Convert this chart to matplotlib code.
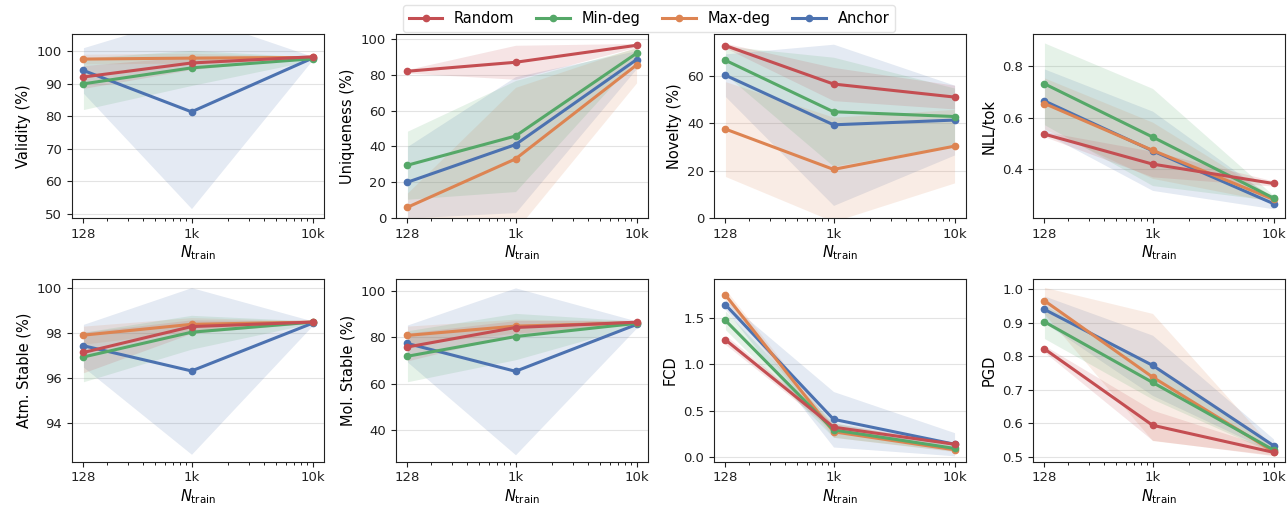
import matplotlib
matplotlib.use("Agg")
import matplotlib.pyplot as plt
import numpy as np
from matplotlib.ticker import FixedLocator, FixedFormatter, LogLocator, NullFormatter

n_train = [128, 1000, 10000]
x_ticklabels = ["128", "1k", "10k"]
methods = ["Random", "Min-deg", "Max-deg", "Anchor"]
colors = {"Random": "#C44E52", "Min-deg": "#55A868", "Max-deg": "#DD8452", "Anchor": "#4C72B0"}

metric_labels = ["Validity (%)", "Uniqueness (%)", "Novelty (%)", "NLL/tok",
                 "Atm. Stable (%)", "Mol. Stable (%)", "FCD", "PGD"]

# means per metric: Random, Min-deg, Max-deg, Anchor
validity_mean = {"Random": [92.0, 96.3, 98.2], "Min-deg": [89.9, 94.8, 97.6],
                 "Max-deg": [97.5, 97.8, 98.0], "Anchor": [94.0, 81.3, 97.8]}
validity_std = {"Random": [3.5, 2.0, 0.3], "Min-deg": [7.9, 5.4, 0.5],
                "Max-deg": [1.5, 1.5, 0.3], "Anchor": [7.0, 29.7, 0.5]}

uniq_mean = {"Random": [82.0, 87.0, 96.5], "Min-deg": [29.5, 45.8, 92.0],
             "Max-deg": [6.0, 33.0, 85.5], "Anchor": [20.0, 41.0, 88.5]}
uniq_std = {"Random": [1.0, 9.5, 1.0], "Min-deg": [19.0, 31.0, 3.0],
            "Max-deg": [8.0, 40.0, 10.0], "Anchor": [20.0, 38.0, 5.0]}

nov_mean = {"Random": [72.7, 56.5, 51.0], "Min-deg": [66.5, 44.8, 42.8],
            "Max-deg": [37.5, 20.5, 30.3], "Anchor": [60.2, 39.3, 41.3]}
nov_std = {"Random": [1.0, 7.0, 5.0], "Min-deg": [6.0, 23.0, 12.0],
           "Max-deg": [20.0, 22.0, 15.5], "Anchor": [9.0, 34.0, 14.7]}

nll_mean = {"Random": [0.535, 0.418, 0.342], "Min-deg": [0.732, 0.524, 0.285],
            "Max-deg": [0.655, 0.472, 0.280], "Anchor": [0.665, 0.470, 0.263]}
nll_std = {"Random": [0.01, 0.05, 0.01], "Min-deg": [0.16, 0.19, 0.01],
           "Max-deg": [0.10, 0.11, 0.01], "Anchor": [0.125, 0.155, 0.02]}

atm_mean = {"Random": [97.15, 98.30, 98.50], "Min-deg": [96.95, 98.05, 98.50],
            "Max-deg": [97.92, 98.40, 98.50], "Anchor": [97.45, 96.33, 98.45]}
atm_std = {"Random": [0.9, 0.3, 0.05], "Min-deg": [1.1, 0.75, 0.05],
           "Max-deg": [0.4, 0.3, 0.05], "Anchor": [0.95, 3.7, 0.1]}

mol_mean = {"Random": [75.8, 84.2, 86.5], "Min-deg": [71.8, 80.3, 86.0],
            "Max-deg": [80.8, 84.8, 86.2], "Anchor": [77.3, 65.3, 85.5]}
mol_std = {"Random": [6.0, 3.0, 0.8], "Min-deg": [11.0, 10.0, 1.0],
           "Max-deg": [4.0, 3.0, 0.8], "Anchor": [8.0, 36.0, 1.5]}

fcd_mean = {"Random": [1.265, 0.320, 0.135], "Min-deg": [1.475, 0.290, 0.090],
            "Max-deg": [1.750, 0.270, 0.075], "Anchor": [1.645, 0.405, 0.135]}
fcd_std = {"Random": [0.05, 0.04, 0.02], "Min-deg": [0.10, 0.08, 0.03],
           "Max-deg": [0.06, 0.06, 0.02], "Anchor": [0.05, 0.30, 0.125]}

pgd_mean = {"Random": [0.822, 0.594, 0.513], "Min-deg": [0.903, 0.722, 0.520],
            "Max-deg": [0.966, 0.738, 0.515], "Anchor": [0.940, 0.773, 0.533]}
pgd_std = {"Random": [0.01, 0.045, 0.01], "Min-deg": [0.05, 0.05, 0.01],
           "Max-deg": [0.04, 0.19, 0.01], "Anchor": [0.04, 0.09, 0.02]}

panels = [(validity_mean, validity_std), (uniq_mean, uniq_std), (nov_mean, nov_std),
          (nll_mean, nll_std), (atm_mean, atm_std), (mol_mean, mol_std),
          (fcd_mean, fcd_std), (pgd_mean, pgd_std)]
ylims = [(48.7, 105.2), (0, 102.8), (0, 77.6), (0.207, 0.927),
         (92.3, 100.4), (26.3, 105.0), (-0.054, 1.92), (0.485, 1.03)]
yticks = [[50, 60, 70, 80, 90, 100], [0, 20, 40, 60, 80, 100], [0, 20, 40, 60],
          [0.4, 0.6, 0.8], [94, 96, 98, 100], [40, 60, 80, 100],
          [0.0, 0.5, 1.0, 1.5], [0.5, 0.6, 0.7, 0.8, 0.9, 1.0]]
ytickfmt = ["{:.0f}", "{:.0f}", "{:.0f}", "{:.1f}", "{:.0f}", "{:.0f}", "{:.1f}", "{:.1f}"]

W, H = 1288, 511
fig = plt.figure(figsize=(W / 100, H / 100), dpi=100)
lefts = [72, 396, 714, 1033]
width = 252
rows = [(34, 218), (279.3, 461.7)]

draw_order = ["Anchor", "Max-deg", "Min-deg", "Random"]
handles = {}
for i, (means, stds) in enumerate(panels):
    r, c = divmod(i, 4)
    top, bot = rows[r]
    ax = fig.add_axes([lefts[c] / W, 1 - bot / H, width / W, (bot - top) / H])
    for m in draw_order:
        mu = np.array(means[m]); sd = np.array(stds[m])
        ax.fill_between(n_train, mu - sd, mu + sd, color=colors[m], alpha=0.15, linewidth=0)
        ln, = ax.plot(n_train, mu, color=colors[m], lw=2.2, marker="o", ms=4.5, label=m)
        handles[m] = ln
    ax.set_xscale("log")
    ax.xaxis.set_major_locator(FixedLocator(n_train))
    ax.xaxis.set_major_formatter(FixedFormatter(x_ticklabels))
    ax.xaxis.set_minor_locator(LogLocator(base=10, subs=np.arange(2, 10)))
    ax.xaxis.set_minor_formatter(NullFormatter())
    ax.set_ylim(*ylims[i])
    ax.set_yticks(yticks[i])
    ax.set_yticklabels([ytickfmt[i].format(v) for v in yticks[i]])
    ax.grid(axis="y", color="#e3e3e3", lw=0.8)
    ax.set_axisbelow(True)
    ax.tick_params(labelsize=9.5, colors="#222222")
    ax.set_ylabel(metric_labels[i], fontsize=10.5)
    ax.set_xlabel(r"$N_{\mathrm{train}}$", fontsize=10.5, labelpad=2)
    for s in ax.spines.values():
        s.set_color("#222222")

fig.legend([handles[m] for m in methods], methods, loc="upper center",
           bbox_to_anchor=(0.504, 0.995), ncol=4, fontsize=10.5, frameon=True,
           edgecolor="#dddddd", handlelength=2.3, columnspacing=1.5, borderaxespad=0.2)

fig.savefig("out.png", dpi=100)
